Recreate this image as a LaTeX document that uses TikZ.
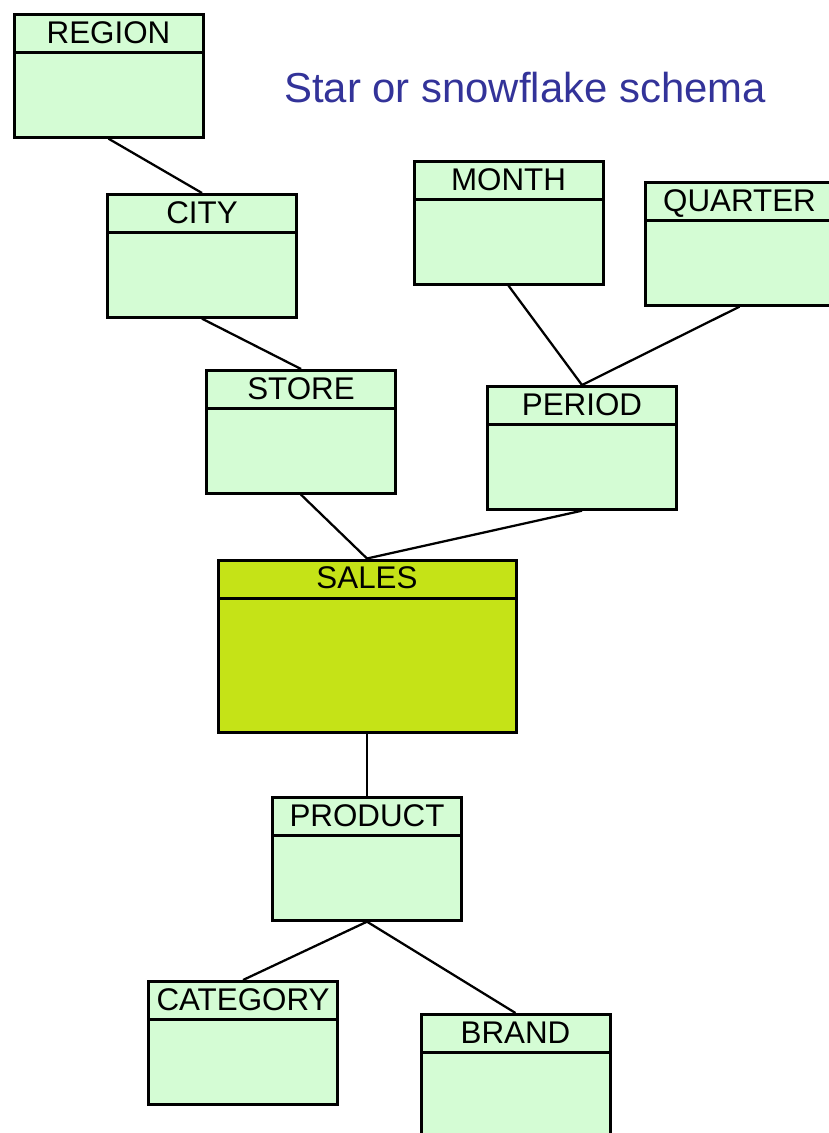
\documentclass[tikz,border=0pt]{standalone}
\usepackage{fontspec}
\setmainfont{Liberation Sans}
\usetikzlibrary{shapes.multipart}
\definecolor{dimgreen}{HTML}{D4FCD4}
\definecolor{factgreen}{HTML}{C5E317}
\definecolor{titleblue}{HTML}{333399}
\newcommand{\headstrut}{\rule[-5.85pt]{0pt}{26.25pt}}

\begin{document}
\begin{tikzpicture}[x=0.75pt, y=-0.75pt,
                    every node/.style={font=\fontsize{23.5}{25.7}\selectfont},
                    table/.style={rectangle split, rectangle split parts=2, draw, line width=2.25pt,
                                  fill=dimgreen, anchor=north, inner xsep=0pt, inner ysep=0pt,
                                  text width=141.75pt, align=center,
                                  rectangle split empty part height=61.25pt,
                                  rectangle split empty part depth=0pt},
                    fact/.style={table, fill=factgreen, text width=223.5pt,
                                 rectangle split empty part height=98.75pt},
                    link/.style={line width=1.7pt}]

\useasboundingbox (0,0) rectangle (829,1133);
\clip (0,0) rectangle (829,1133);

% Title
\node[text=titleblue, font=\fontsize{31.4}{37.7}\selectfont] (title) at (525,88) {Star or snowflake schema};

% Store branch
\node[table] (region) at (108.5,13) {\headstrut REGION};
\node[table] (city) at (202,193) {\headstrut CITY};
\node[table] (store) at (301,369) {\headstrut STORE};

% Time branch
\node[table] (month) at (508.5,160) {\headstrut MONTH};
\node[table] (quarter) at (739.5,181) {\headstrut QUARTER};
\node[table] (period) at (582,385) {\headstrut PERIOD};

% Fact table
\node[fact] (sales) at (367,558.5) {\headstrut SALES};

% Product branch
\node[table] (product) at (367,796) {\headstrut PRODUCT};
\node[table] (category) at (243,980) {\headstrut CATEGORY};
\node[table] (brand) at (515.5,1013) {\headstrut BRAND};

% Connections
\draw[link] (region.south) -- (city.north);
\draw[link] (city.south) -- (store.north);
\draw[link] (month.south) -- (period.north);
\draw[link] (quarter.south) -- (period.north);
\draw[link] (store.south) -- (sales.north);
\draw[link] (period.south) -- (sales.north);
\draw[link] (sales.south) -- (product.north);
\draw[link] (product.south) -- (category.north);
\draw[link] (product.south) -- (brand.north);

\end{tikzpicture}
\end{document}
